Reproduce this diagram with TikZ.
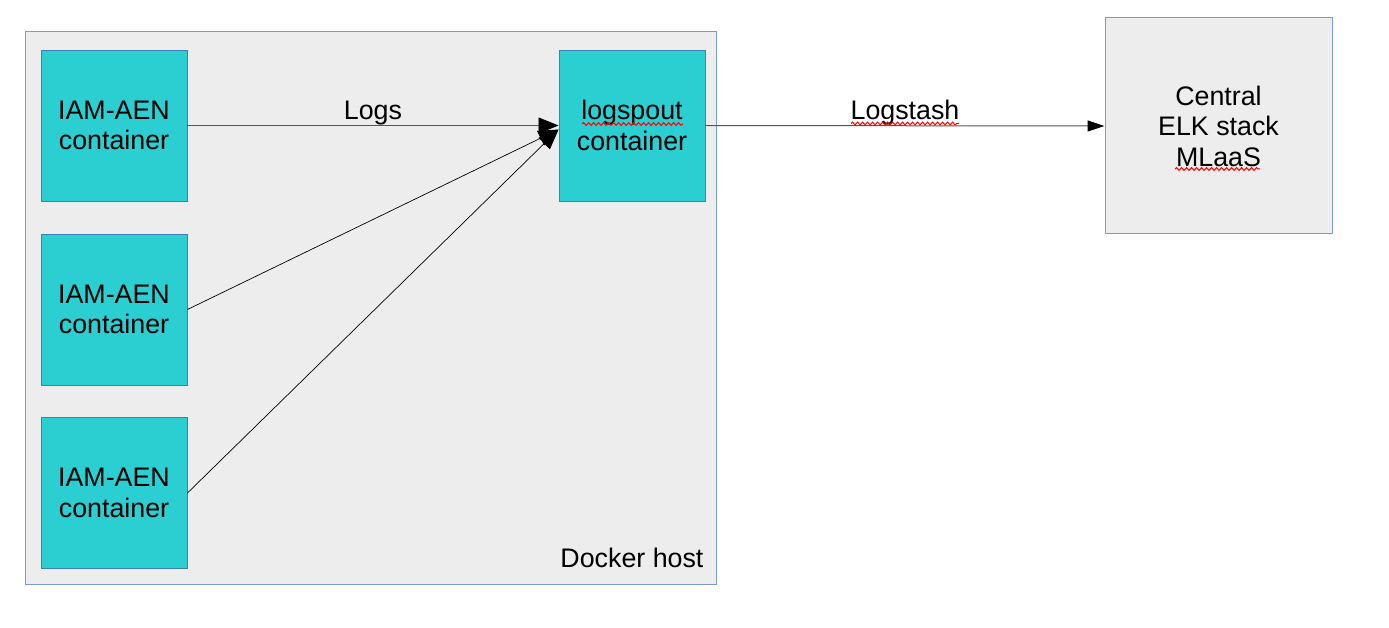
\documentclass[tikz,border=0pt]{standalone}
\usepackage{fontspec}
\setmainfont{Liberation Sans}
\usetikzlibrary{arrows.meta,decorations.pathmorphing}
\definecolor{hostfill}{HTML}{EDEDED}
\definecolor{hostline}{HTML}{7A9CCB}
\definecolor{cyanfill}{HTML}{2BCFD2}
\definecolor{cyanline}{HTML}{3F7FB8}
\definecolor{conn}{HTML}{555555}
\begin{document}
\begin{tikzpicture}[x=1pt,y=-1pt,
  txt/.style={font=\fontsize{26.8}{30.5}\selectfont, align=center, text=black},
  hostbox/.style={draw=hostline, fill=hostfill, line width=1pt, rectangle, inner sep=0pt},
  cbox/.style={draw=cyanline, fill=cyanfill, line width=0.9pt, rectangle, inner sep=0pt,
     minimum width=146pt, minimum height=151pt, txt},
  bigarrow/.style={-{Triangle[length=20pt,width=16pt,color=black]}, line width=0.7pt, draw=black},
  smallarrow/.style={-{Triangle[length=17pt,width=11pt,color=black]}, line width=1pt, draw=conn},
  squig/.style={draw=red, line width=1pt, decorate, decoration={snake, amplitude=1.4pt, segment length=5pt}}
]
\useasboundingbox (0,0) rectangle (1389,628);
\fill[white] (0,0) rectangle (1389,628);

\node[hostbox, minimum width=691pt, minimum height=552pt] (host) at (370.5,308) {};
\node[txt, anchor=east] (hostlbl) at (707,558) {Docker host};

\node[cbox] (a1) at (114,125.5) {IAM-AEN\\container};
\node[cbox] (a2) at (114,309.5) {IAM-AEN\\container};
\node[cbox] (a3) at (114,493) {IAM-AEN\\container};
\node[cbox] (lg) at (632,125.5) {logspout\\container};

\node[hostbox, txt, minimum width=227pt, minimum height=216pt] (elk) at (1218.5,126) {Central\\ELK stack\\MLaaS};

\draw[bigarrow, draw=conn] (a1.east) -- node[txt, above, pos=0.5, yshift=-3.5pt] (logs) {Logs} (lg.west);
\draw[bigarrow] (a2.east) -- ([yshift=-4pt]lg.west);
\draw[bigarrow] (a3.east) -- ([yshift=-4pt]lg.west);
\draw[smallarrow] (lg.east) -- node[txt, above, pos=0.5, yshift=-3.5pt] (lstash) {Logstash} (elk.west);

\draw[squig] (582,124) -- (683,124);
\draw[squig] (851,123.5) -- (959,123.5);
\draw[squig] (1175,169) -- (1260,169);
\end{tikzpicture}
\end{document}
